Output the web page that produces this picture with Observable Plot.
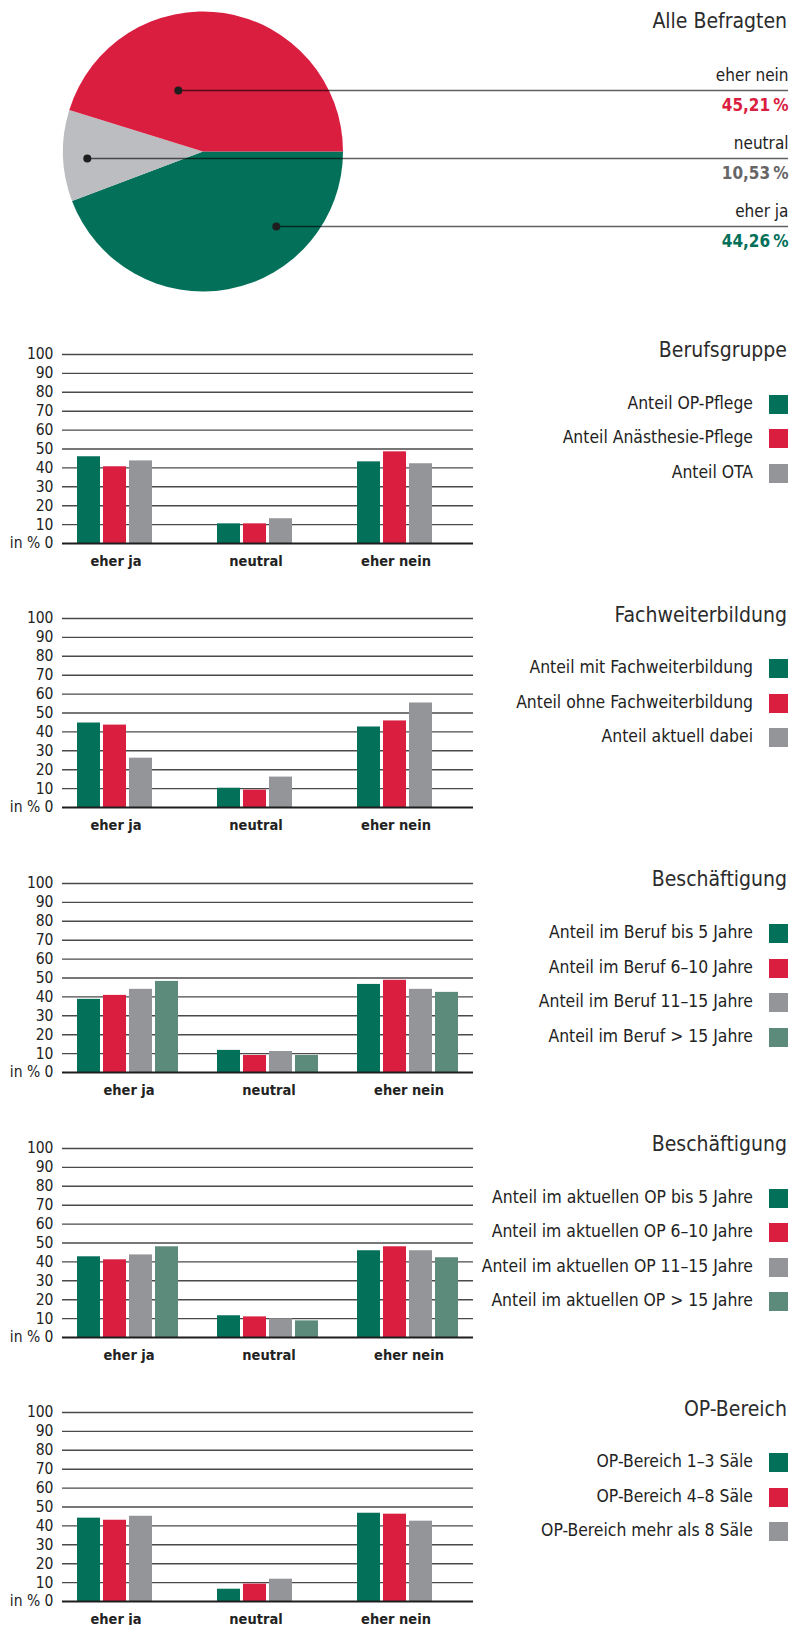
<!DOCTYPE html>
<html><head><meta charset="utf-8">
<script src="https://cdn.jsdelivr.net/npm/d3@7"></script>
<script src="https://cdn.jsdelivr.net/npm/@observablehq/plot@0.6"></script>
<style>
:root{--f:'DejaVu Sans Condensed','Liberation Sans Narrow','Arial Narrow',sans-serif;}
html,body{margin:0;padding:0;background:#fff;}
body{width:800px;height:1625px;overflow:hidden;position:relative;font-family:var(--f);}
.block{position:absolute;left:0;}
.title{position:absolute;right:13px;font-size:21px;line-height:21px;color:#2b2b2b;white-space:nowrap;}
.legend{position:absolute;right:12px;}
.row{display:flex;justify-content:flex-end;align-items:flex-start;height:34.5px;}
.row span{font-size:17.4px;line-height:17.4px;color:#222;white-space:nowrap;}
.row i{display:block;width:19px;height:19px;margin-left:16px;margin-top:0;}
</style></head><body>
<script>
// ---------- data ----------
const pieCategories = ["eher ja", "neutral", "eher nein"];
const pieValues = [44.26, 10.53, 45.21];
const pieLabels = ["44,26\u202f%", "10,53\u202f%", "45,21\u202f%"];
const pieRowOrder = ["eher nein", "neutral", "eher ja"];

const answerCategories = ["eher ja", "neutral", "eher nein"];
const yTicks = [0, 10, 20, 30, 40, 50, 60, 70, 80, 90, 100];

const berufTitle = "Berufsgruppe";
const berufSeries = ["Anteil OP-Pflege", "Anteil Anästhesie-Pflege", "Anteil OTA"];
const berufValues = [[45.9, 10.4, 43.2], [40.6, 10.4, 48.5], [43.7, 13.1, 42.2]];

const fachTitle = "Fachweiterbildung";
const fachSeries = ["Anteil mit Fachweiterbildung", "Anteil ohne Fachweiterbildung", "Anteil aktuell dabei"];
const fachValues = [[44.7, 10.2, 42.6], [43.6, 9.2, 45.8], [26.1, 16.1, 55.3]];

const berufJahreTitle = "Beschäftigung";
const berufJahreSeries = ["Anteil im Beruf bis 5 Jahre", "Anteil im Beruf 6–10 Jahre", "Anteil im Beruf 11–15 Jahre", "Anteil im Beruf > 15 Jahre"];
const berufJahreValues = [[38.7, 11.7, 46.6], [40.8, 9.0, 48.8], [44.0, 11.1, 44.0], [48.2, 9.0, 42.4]];

const opJahreTitle = "Beschäftigung";
const opJahreSeries = ["Anteil im aktuellen OP bis 5 Jahre", "Anteil im aktuellen OP 6–10 Jahre", "Anteil im aktuellen OP 11–15 Jahre", "Anteil im aktuellen OP > 15 Jahre"];
const opJahreValues = [[42.7, 11.5, 45.9], [41.1, 10.9, 48.0], [43.7, 9.9, 45.9], [48.0, 8.8, 42.2]];

const bereichTitle = "OP-Bereich";
const bereichSeries = ["OP-Bereich 1–3 Säle", "OP-Bereich 4–8 Säle", "OP-Bereich mehr als 8 Säle"];
const bereichValues = [[44.1, 6.5, 46.7], [43.0, 9.2, 46.2], [45.1, 11.8, 42.5]];

// ---------- styles ----------
const FONT = "'DejaVu Sans Condensed','Liberation Sans Narrow','Arial Narrow',sans-serif";
const GREEN = "#03705A", RED = "#DA1E3F", GRAY = "#939598", TEAL = "#5D8B7B", PIEGRAY = "#BCBDC0";
const seriesColors = [GREEN, RED, GRAY, TEAL];
const pieColors = [GREEN, PIEGRAY, RED];
const pieTextColors = [GREEN, "#666666", RED];
const leaderAnchor = [0.52, -0.83, -0.18];

// ---------- pie ----------
const pieX = {domain: [-1, 1], range: [63, 343]};
const PIE_CY = 151.5;
const pieRows = pieCategories.map((c, i) => ({
  category: c, value: pieValues[i], label: pieLabels[i],
  color: pieColors[i], textColor: pieTextColors[i], anchor: leaderAnchor[i]
}));
const slices = d3.pie().value(d => d.value).sort(null)
  .startAngle(Math.PI / 2).endAngle(Math.PI / 2 + 2 * Math.PI)(pieRows);
const rightEdge = d3.scaleLinear(pieX.domain, pieX.range).invert(800 - 12);

const piePlot = Plot.plot({
  width: 800, height: 300, marginTop: 0, marginBottom: 0, marginLeft: 0, marginRight: 12,
  style: {fontFamily: FONT, background: "transparent", color: "#222"},
  x: {...pieX, axis: null},
  y: {type: "point", domain: pieRowOrder, range: [90, 226], padding: 0, axis: null},
  marks: [
    (index, scales) => {
      const cx = scales.x(0), r = scales.x(1) - scales.x(0);
      const g = d3.create("svg:g").attr("transform", `translate(${cx},${PIE_CY})`);
      const arc = d3.arc().innerRadius(0).outerRadius(r);
      g.selectAll("path").data(slices).join("path").attr("d", arc).attr("fill", d => d.data.color);
      return g.node();
    },
    Plot.ruleY(pieRows, {y: "category", x1: "anchor", x2: () => rightEdge, stroke: "#000", strokeOpacity: 0.62, strokeWidth: 1.5}),
    Plot.dot(pieRows, {x: "anchor", y: "category", r: 4, fill: "#1e1e1e"}),
    Plot.text(pieRows, {y: "category", text: "category", frameAnchor: "right", textAnchor: "end", dy: -15.4, fontSize: 17, fill: "#222"}),
    Plot.text(pieRows, {y: "category", text: "label", frameAnchor: "right", textAnchor: "end", dy: 14.6, fontSize: 17, fontWeight: "bold", fill: "textColor"})
  ]
});
const pieDiv = document.createElement("div");
pieDiv.className = "block"; pieDiv.style.top = "0px";
pieDiv.appendChild(piePlot);
document.body.appendChild(pieDiv);
const pieTitle = document.createElement("div");
pieTitle.className = "title"; pieTitle.style.top = "11.2px";
pieTitle.textContent = "Alle Befragten";
document.body.appendChild(pieTitle);

// ---------- bar charts ----------
const FX_GAP = 9, FX_STEP = 140;
function barChart(title, seriesNames, values, y100) {
  const rows = [];
  seriesNames.forEach((s, i) => answerCategories.forEach((c, j) => rows.push({series: s, category: c, value: values[i][j]})));
  const gridRows = answerCategories.flatMap(c => yTicks.map(t => ({category: c, tick: t})));
  const lastCat = answerCategories[answerCategories.length - 1];
  const four = seriesNames.length === 4;
  const xDomain = four ? seriesNames : [...seriesNames, "\u2009"];
  const gridInner = gridRows.filter(d => d.category !== lastCat);
  const gridLast = gridRows.filter(d => d.category === lastCat);
  const plot = Plot.plot({
    width: 480, height: 229, marginTop: 10, marginBottom: 30, marginLeft: 62, marginRight: 7,
    style: {fontFamily: FONT, background: "transparent", color: "#222", overflow: "visible"},
    fx: {domain: answerCategories, paddingInner: FX_GAP / FX_STEP, paddingOuter: 0, label: null},
    x: {domain: xDomain, paddingInner: 0.13, paddingOuter: 0.575, axis: null},
    y: {domain: [0, 100]},
    color: {domain: seriesNames, range: seriesColors.slice(0, seriesNames.length)},
    marks: [
      Plot.ruleY(gridInner.filter(d => d.tick > 0), {fx: "category", y: "tick", stroke: "#4a4a4a", strokeWidth: 1.4, insetRight: -FX_GAP}),
      Plot.ruleY(gridLast.filter(d => d.tick > 0), {fx: "category", y: "tick", stroke: "#4a4a4a", strokeWidth: 1.4}),
      Plot.barY(rows, {fx: "category", x: "series", y: "value", fill: "series"}),
      Plot.ruleY(gridInner.filter(d => d.tick === 0), {fx: "category", y: "tick", stroke: "#1e1e1e", strokeWidth: 2.2, insetRight: -FX_GAP}),
      Plot.ruleY(gridLast.filter(d => d.tick === 0), {fx: "category", y: "tick", stroke: "#1e1e1e", strokeWidth: 2.2}),
      Plot.axisY(yTicks, {tickSize: 0, tickPadding: 9, tickFormat: d => d === 0 ? "in % 0" : String(d), fontSize: 15.5, label: null}),
      Plot.axisFx({anchor: "bottom", tickSize: 0, tickPadding: 12, fontSize: 14.5, fontWeight: "bold", label: null, dx: four ? 1 : -12})
    ]
  });
  const div = document.createElement("div");
  div.className = "block"; div.style.top = (y100 - 10) + "px";
  div.appendChild(plot);
  document.body.appendChild(div);

  const t = document.createElement("div");
  t.className = "title"; t.style.top = (y100 - 13.8) + "px";
  t.textContent = title;
  document.body.appendChild(t);

  const lg = document.createElement("div");
  lg.className = "legend"; lg.style.top = (y100 + 41) + "px";
  seriesNames.forEach((s, i) => {
    const r = document.createElement("div"); r.className = "row";
    const sp = document.createElement("span"); sp.textContent = s;
    const sw = document.createElement("i"); sw.style.background = seriesColors[i];
    r.appendChild(sp); r.appendChild(sw); lg.appendChild(r);
  });
  document.body.appendChild(lg);
}

const CHART0 = 353.7, CHARTSTEP = 264.65;
barChart(berufTitle, berufSeries, berufValues, CHART0);
barChart(fachTitle, fachSeries, fachValues, CHART0 + CHARTSTEP);
barChart(berufJahreTitle, berufJahreSeries, berufJahreValues, CHART0 + 2 * CHARTSTEP);
barChart(opJahreTitle, opJahreSeries, opJahreValues, CHART0 + 3 * CHARTSTEP);
barChart(bereichTitle, bereichSeries, bereichValues, CHART0 + 4 * CHARTSTEP);
</script></body></html>
